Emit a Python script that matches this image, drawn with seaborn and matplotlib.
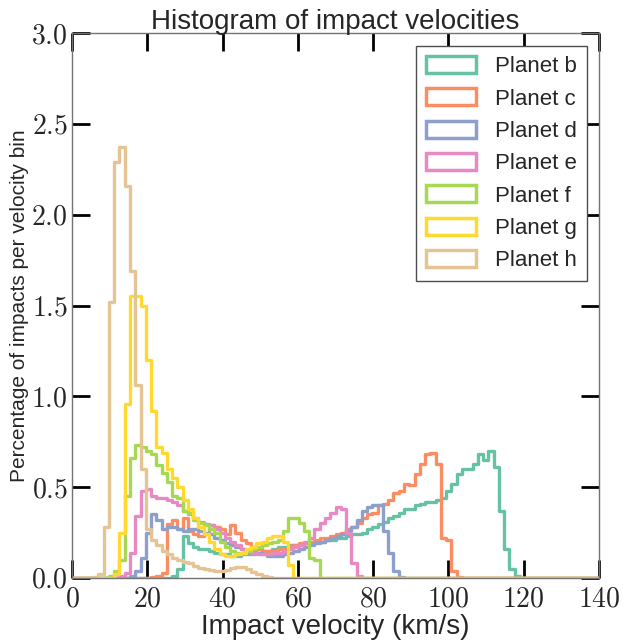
import numpy as np
import pandas as pd
import matplotlib
matplotlib.use("Agg")
import matplotlib.pyplot as plt
from matplotlib.patches import Patch
from matplotlib.ticker import FuncFormatter
import seaborn as sns

# ---------------- data (percentage of impacts per 1.4 km/s bin, 0..140 km/s) ----------------
bin_edges = [round(1.4 * k, 2) for k in range(101)]

planet_b = ([0.0] * 19 +
            [0.01, 0.05, 0.23, 0.19, 0.17, 0.16, 0.16, 0.15, 0.14, 0.13,
             0.13, 0.12, 0.12, 0.13, 0.13, 0.13, 0.14, 0.15, 0.15, 0.16,
             0.17, 0.17, 0.18, 0.18, 0.18, 0.19, 0.19, 0.20, 0.20, 0.21,
             0.21, 0.22, 0.22, 0.23, 0.24, 0.24, 0.25, 0.27, 0.28, 0.30,
             0.31, 0.33, 0.34, 0.36, 0.38, 0.38, 0.40, 0.41, 0.42, 0.42,
             0.43, 0.44, 0.48, 0.52, 0.57, 0.60, 0.60, 0.63, 0.68, 0.65,
             0.70, 0.61, 0.37, 0.16, 0.05, 0.01] +
            [0.0] * 15)

planet_c = ([0.0] * 15 +
            [0.005, 0.01, 0.03, 0.30, 0.32, 0.27, 0.33, 0.26, 0.24, 0.23,
             0.24, 0.29, 0.28, 0.27, 0.24, 0.29, 0.25, 0.21, 0.19, 0.17,
             0.16, 0.15, 0.15, 0.15, 0.16, 0.16, 0.17, 0.18, 0.19, 0.19,
             0.20, 0.21, 0.22, 0.22, 0.23, 0.24, 0.25, 0.27, 0.28, 0.30,
             0.33, 0.35, 0.36, 0.40, 0.41, 0.43, 0.47, 0.48, 0.52, 0.51,
             0.57, 0.63, 0.68, 0.69, 0.63, 0.22, 0.21, 0.04, 0.005] +
            [0.0] * 26)

planet_d = ([0.0] * 11 +
            [0.01, 0.04, 0.11, 0.25, 0.35, 0.32, 0.27, 0.28, 0.28, 0.27,
             0.26, 0.27, 0.27, 0.26, 0.25, 0.24, 0.22, 0.21, 0.19, 0.18,
             0.17, 0.16, 0.15, 0.15, 0.14, 0.13, 0.12, 0.12, 0.12, 0.13,
             0.14, 0.15, 0.16, 0.17, 0.18, 0.19, 0.20, 0.21, 0.22, 0.23,
             0.24, 0.26, 0.28, 0.32, 0.37, 0.39, 0.40, 0.40, 0.26, 0.14,
             0.04, 0.005] +
            [0.0] * 37)

planet_e = ([0.0] * 9 +
            [0.01, 0.03, 0.14, 0.34, 0.48, 0.49, 0.45, 0.44, 0.44, 0.43,
             0.42, 0.40, 0.37, 0.35, 0.33, 0.31, 0.30, 0.29, 0.27, 0.25,
             0.22, 0.20, 0.18, 0.16, 0.15, 0.14, 0.13, 0.13, 0.13, 0.14,
             0.14, 0.15, 0.16, 0.17, 0.18, 0.20, 0.22, 0.27, 0.30, 0.33,
             0.36, 0.39, 0.38, 0.25, 0.08, 0.01] +
            [0.0] * 45)

planet_f = ([0.0] * 7 +
            [0.01, 0.04, 0.10, 0.45, 0.66, 0.73, 0.72, 0.70, 0.68, 0.62,
             0.58, 0.53, 0.45, 0.44, 0.37, 0.36, 0.32, 0.30, 0.29, 0.27,
             0.25, 0.20, 0.17, 0.15, 0.14, 0.14, 0.15, 0.16, 0.17, 0.18,
             0.19, 0.20, 0.21, 0.26, 0.33, 0.33, 0.30, 0.26, 0.11, 0.10] +
            [0.0] * 53)

planet_g = ([0.0] * 8 +
            [0.02, 0.25, 0.96, 1.55, 1.55, 1.50, 1.20, 0.92, 0.72, 0.69,
             0.60, 0.55, 0.50, 0.43, 0.38, 0.33, 0.28, 0.24, 0.20, 0.16,
             0.13, 0.12, 0.12, 0.13, 0.14, 0.16, 0.17, 0.19, 0.20, 0.22,
             0.23, 0.23, 0.20, 0.07] +
            [0.0] * 58)

planet_h = ([0.0] * 4 +
            [0.005, 0.02, 0.28, 1.52, 2.29, 2.37, 2.16, 1.69, 1.06, 0.60,
             0.27, 0.21, 0.18, 0.15, 0.13, 0.11, 0.10, 0.09, 0.08, 0.065,
             0.055, 0.05, 0.045, 0.04, 0.04, 0.045, 0.055, 0.06, 0.06, 0.05,
             0.035, 0.02, 0.01, 0.005] +
            [0.0] * 62)

series = [planet_b, planet_c, planet_d, planet_e, planet_f, planet_g, planet_h]
labels = ["Planet b", "Planet c", "Planet d", "Planet e", "Planet f", "Planet g", "Planet h"]
x_ticks = [0, 20, 40, 60, 80, 100, 120, 140]
y_ticks = [0.0, 0.5, 1.0, 1.5, 2.0, 2.5, 3.0]

# ---------------- style ----------------
sns.set_style("ticks")
plt.rcParams['font.family'] = ['Liberation Sans', 'DejaVu Sans']
plt.rcParams['mathtext.fontset'] = 'cm'

palette = sns.color_palette("Set2", len(series))

fig = plt.figure(figsize=(6.29, 6.41), dpi=100)
ax = fig.add_axes([72 / 629, 1 - 578 / 641, 527 / 629, 545 / 641])

edges_arr = np.array(bin_edges)
centers = (edges_arr[:-1] + edges_arr[1:]) / 2
for vals, col in zip(series, palette):
    df = pd.DataFrame({"velocity": centers, "pct": vals})
    sns.histplot(data=df, x="velocity", weights="pct", bins=bin_edges,
                 element="step", fill=False, color=col, linewidth=2.4,
                 ax=ax, legend=False)

ax.set_xlim(0, 140)
ax.set_ylim(0, 3.0)
ax.set_xticks(x_ticks)
ax.set_yticks(y_ticks)
ax.xaxis.set_major_formatter(FuncFormatter(lambda v, p: f"${v:.0f}$"))
ax.yaxis.set_major_formatter(FuncFormatter(lambda v, p: f"${v:.1f}$"))
ax.tick_params(axis="both", which="major", direction="in", length=13, width=2,
               color="black", top=True, right=True, labelsize=20)
ax.tick_params(axis="x", pad=6)
ax.tick_params(axis="y", pad=3)
for s in ax.spines.values():
    s.set_color("0.45")
    s.set_linewidth(1.0)

ax.set_title("Histogram of impact velocities", fontsize=20, pad=3)
ax.set_xlabel("Impact velocity (km/s)", fontsize=20, labelpad=1)
ax.set_ylabel("Percentage of impacts per velocity bin", fontsize=15, labelpad=2)

handles = [Patch(facecolor="none", edgecolor=c, linewidth=2.5, label=l)
           for c, l in zip(palette, labels)]
leg = ax.legend(handles=handles, loc="upper right", bbox_to_anchor=(0.977, 0.976),
                borderaxespad=0, fontsize=16, frameon=True, fancybox=False,
                edgecolor="0.3", framealpha=1, handlelength=2.25, handleheight=0.8,
                handletextpad=0.85, labelspacing=0.5, borderpad=0.45)
leg.get_frame().set_linewidth(1.0)

fig.savefig("out.png", dpi=100)
